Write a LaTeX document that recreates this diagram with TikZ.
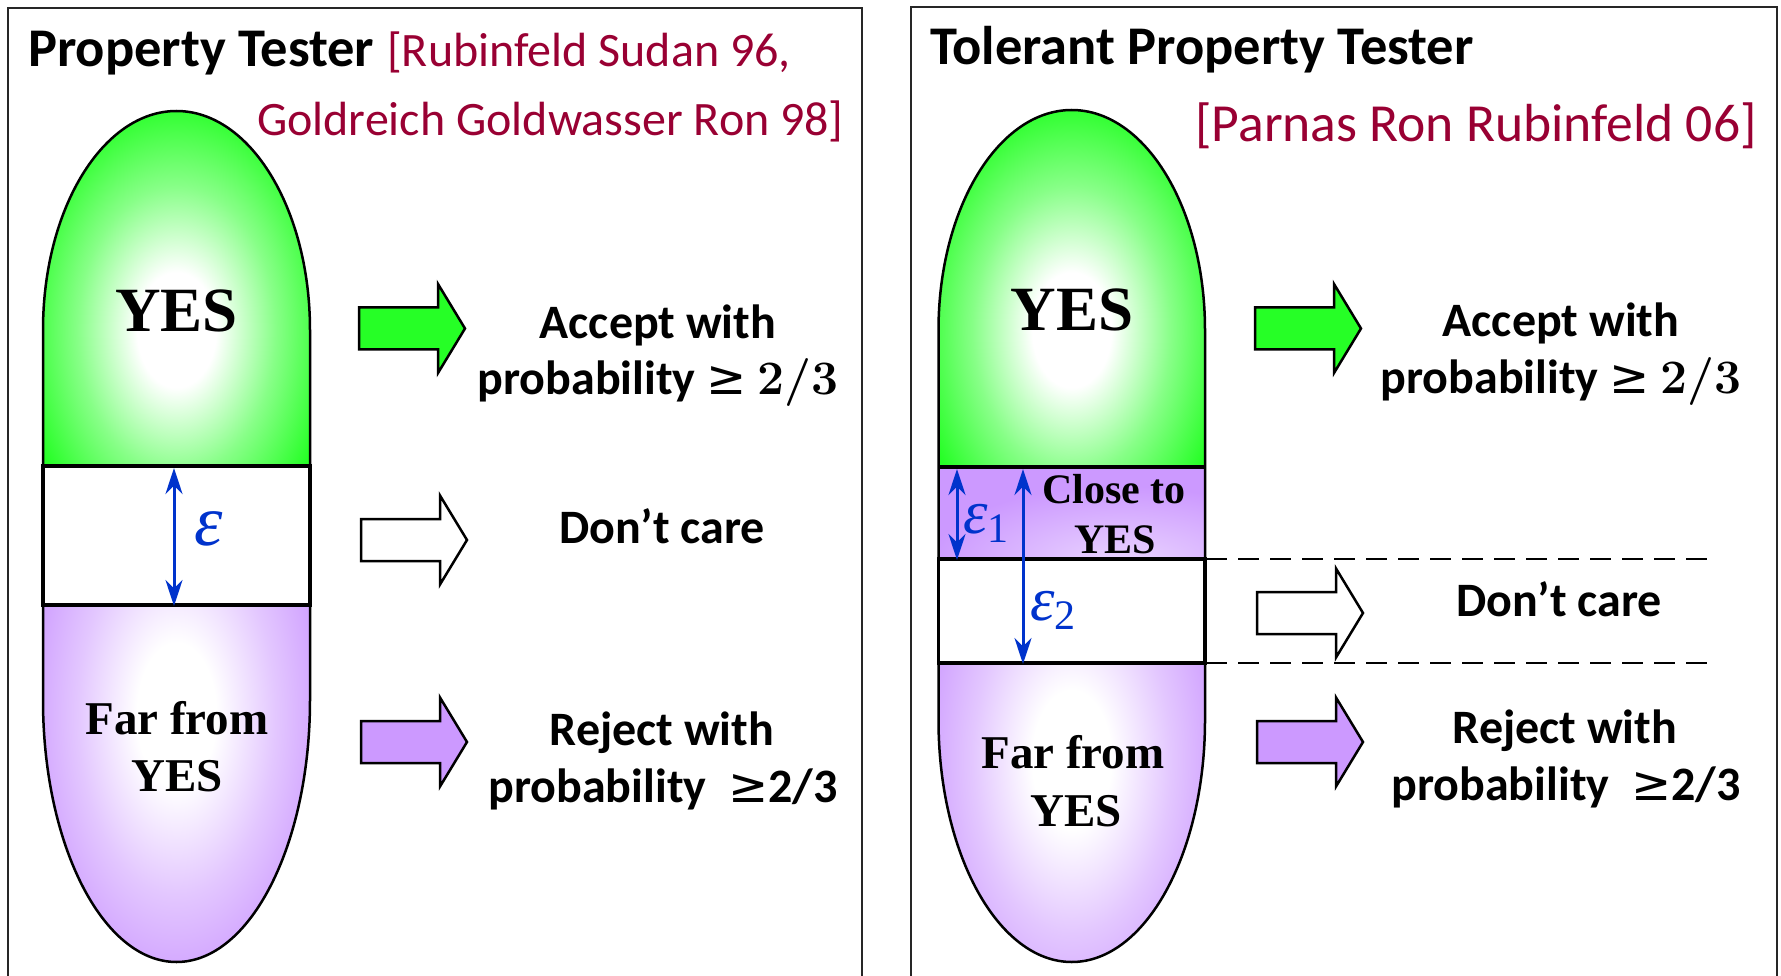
\documentclass[tikz,border=0pt]{standalone}
\usepackage{fontspec}
\usetikzlibrary{arrows.meta}
\newfontfamily\calfont{Carlito}
\newfontfamily\timesfont{Liberation Serif}
\newfontfamily\dejafont{DejaVu Sans}
\definecolor{grn}{RGB}{38,255,38}
\definecolor{purp}{RGB}{204,153,255}
\definecolor{citecol}{RGB}{153,0,51}
\definecolor{epsblue}{RGB}{0,51,204}

% glowing fills: white core fading to the region colour
\pgfdeclareradialshading{greenglow}{\pgfpoint{0bp}{0bp}}{%
  color(0bp)=(white); color(6bp)=(white); color(15bp)=(grn!55!white);
  color(24bp)=(grn); color(50bp)=(grn)}
\pgfdeclareradialshading{purpleglow}{\pgfpoint{0bp}{0bp}}{%
  color(0bp)=(white); color(6bp)=(white); color(15bp)=(purp!55!white);
  color(24bp)=(purp); color(50bp)=(purp)}
\pgfdeclareradialshading{purplesoft}{\pgfpoint{0bp}{0bp}}{%
  color(0bp)=(purp!40!white); color(22bp)=(purp); color(50bp)=(purp)}

% one block arrow: left end x, centre y, fill colour
\newcommand\blockarrow[3]{%
  \draw[line width=2.5pt, fill=#3, line join=miter]
    (#1,#2-21) -- ++(79,0) -- ++(0,-23.5) -- (#1+106,#2)
    -- (#1+79,#2+44.5) -- ++(0,-23.5) -- (#1,#2+21) -- cycle;}

\tikzset{
  frame/.style={line width=2pt, black!85},
  outline/.style={line width=2.5pt},
  band/.style={line width=3.5pt},
  titletext/.style={anchor=base west, inner sep=0pt, font=\calfont\bfseries\fontsize{54.5}{64}\selectfont},
  citetext/.style={inner sep=0pt, text=citecol, font=\calfont\fontsize{48}{58}\selectfont},
  bigtext/.style={anchor=base, inner sep=0pt, font=\timesfont\bfseries\fontsize{63}{70}\selectfont},
  regiontext/.style={anchor=base, inner sep=0pt, font=\timesfont\bfseries\fontsize{47}{56}\selectfont},
  smallregion/.style={anchor=base, inner sep=0pt, font=\timesfont\bfseries\fontsize{42}{50}\selectfont},
  outcome/.style={anchor=base, inner sep=0pt, font=\calfont\bfseries\fontsize{48}{58}\selectfont},
  epsarrow/.style={epsblue, line width=3pt, {Stealth[length=26pt,width=17pt]}-{Stealth[length=26pt,width=17pt]}},
  epstext/.style={inner sep=0pt, text=epsblue},
  dashline/.style={line width=2.5pt, dash pattern=on 21pt off 11pt},
}

\newcommand\geqsym{{\dejafont\mdseries ≥}}
\newcommand\twothirds{{\rmfamily\bfseries 2/3}}

\begin{document}
\begin{tikzpicture}[x=1pt,y=-1pt]
\useasboundingbox (0,0) rectangle (1781,976);
\fill[white] (0,0) rectangle (1781,976);

% ---------- panel frames (open at the bottom) ----------
\draw[frame] (8,990) -- (8,8) -- (862,8) -- (862,990);
\draw[frame] (911,990) -- (911,7) -- (1777,7) -- (1777,990);

% ================= left panel: property tester =================
% green YES cap
\begin{scope}
  \clip (43,466) -- (43,330) arc[start angle=180,end angle=360,x radius=133.5,y radius=219] -- (310,466) -- cycle;
  \fill[grn] (0,0) rectangle (400,500);
  \shade[shading=greenglow] (176.5,330) ellipse[x radius=165, y radius=240];
\end{scope}
% purple far-from-YES bottom
\begin{scope}
  \clip (43,605) -- (43,700) arc[start angle=180,end angle=0,x radius=133.5,y radius=262] -- (310,605) -- cycle;
  \fill[purp] (0,590) rectangle (400,980);
  \shade[shading=purpleglow] (176.5,715) ellipse[x radius=165, y radius=300];
\end{scope}
\draw[outline] (43,330) arc[start angle=180,end angle=360,x radius=133.5,y radius=219]
  -- (310,700) arc[start angle=0,end angle=180,x radius=133.5,y radius=262] -- cycle;
\draw[band, fill=white] (43,466) rectangle (310,605);

\coordinate (lepsTop) at (174,468);
\coordinate (lepsBot) at (174,606);
\draw[epsarrow] (lepsTop) -- (lepsBot);
\node[epstext, font=\timesfont\itshape\fontsize{72}{80}\selectfont] (leps) at (209,529) {ε};

\node[bigtext] (lyes) at (176.5,332) {YES};
\node[regiontext] (lfar1) at (177,734) {Far from};
\node[regiontext] (lfar2) at (177,791) {YES};

\node[titletext] (ltitle) at (28,67) {Property Tester};
\node[citetext, anchor=base west] (lcite1) at (387,67) {[Rubinfeld Sudan 96,};
\node[citetext, anchor=base east] (lcite2) at (844,136) {Goldreich Goldwasser Ron 98]};

\blockarrow{359}{328.5}{grn}
\blockarrow{361}{540}{white}
\blockarrow{361}{742}{purp}

\node[outcome] (lacc1) at (658,338) {Accept with};
\node[outcome] (lacc2) at (658,395) {probability \geqsym\ \twothirds};
\node[outcome] (ldc) at (662,543) {Don’t care};
\node[outcome] (lrej1) at (662,745) {Reject with};
\node[outcome] (lrej2) at (663,802) {probability\ \ \geqsym 2/3};

% ================= right panel: tolerant tester =================
\begin{scope}
  \clip (938.5,467) -- (938.5,330) arc[start angle=180,end angle=360,x radius=133.25,y radius=220] -- (1205,467) -- cycle;
  \fill[grn] (900,0) rectangle (1300,500);
  \shade[shading=greenglow] (1071.75,330) ellipse[x radius=165, y radius=240];
\end{scope}
\begin{scope}
  \clip (938.5,467) rectangle (1205,559);
  \fill[purp] (938.5,467) rectangle (1205,559);
  \shade[shading=purplesoft] (1120,565) ellipse[x radius=220, y radius=90];
\end{scope}
\begin{scope}
  \clip (938.5,663) -- (938.5,720) arc[start angle=180,end angle=0,x radius=133.25,y radius=242] -- (1205,663) -- cycle;
  \fill[purp] (900,650) rectangle (1300,980);
  \shade[shading=purpleglow] (1071.75,760) ellipse[x radius=165, y radius=290];
\end{scope}
\draw[outline] (938.5,330) arc[start angle=180,end angle=360,x radius=133.25,y radius=220]
  -- (1205,720) arc[start angle=0,end angle=180,x radius=133.25,y radius=242] -- cycle;
\draw[band] (938.5,467) -- (1205,467);
\draw[band, fill=white] (938.5,559) rectangle (1205,663);

\coordinate (e1Top) at (957,469);
\coordinate (e1Bot) at (957,560);
\coordinate (e2Top) at (1023,469);
\coordinate (e2Bot) at (1023,664);
\draw[epsarrow] (e1Top) -- (e1Bot);
\draw[epsarrow] (e2Top) -- (e2Bot);
\node[epstext, anchor=base west, font=\timesfont\itshape\fontsize{62}{70}\selectfont] (reps1) at (963,533)
  {ε\raisebox{-9pt}{\timesfont\upshape\fontsize{42}{48}\selectfont 1}};
\node[epstext, anchor=base west, font=\timesfont\itshape\fontsize{62}{70}\selectfont] (reps2) at (1030,620)
  {ε\raisebox{-9pt}{\timesfont\upshape\fontsize{42}{48}\selectfont 2}};

\coordinate (d1s) at (1206,559);
\coordinate (d1e) at (1710,559);
\coordinate (d2s) at (1206,663);
\coordinate (d2e) at (1710,663);
\draw[dashline] (d1s) -- (d1e);
\draw[dashline] (d2s) -- (d2e);

\node[bigtext] (ryes) at (1072,331) {YES};
\node[smallregion] (rclose1) at (1114,503) {Close to};
\node[smallregion] (rclose2) at (1115,553) {YES};
\node[regiontext] (rfar1) at (1073,768) {Far from};
\node[regiontext] (rfar2) at (1076,826) {YES};

\node[titletext] (rtitle) at (930,65) {Tolerant Property Tester};
\node[citetext, anchor=base east, font=\calfont\fontsize{53.6}{62}\selectfont] (rcite) at (1757,142) {[Parnas Ron Rubinfeld 06]};

\blockarrow{1255}{328.5}{grn}
\blockarrow{1257}{613}{white}
\blockarrow{1257}{742}{purp}

\node[outcome] (racc1) at (1561,337) {Accept with};
\node[outcome] (racc2) at (1561,393) {probability \geqsym\ \twothirds};
\node[outcome] (rdc) at (1559,616) {Don’t care};
\node[outcome] (rrej1) at (1565,743) {Reject with};
\node[outcome] (rrej2) at (1566,800) {probability\ \ \geqsym 2/3};
\end{tikzpicture}
\end{document}
